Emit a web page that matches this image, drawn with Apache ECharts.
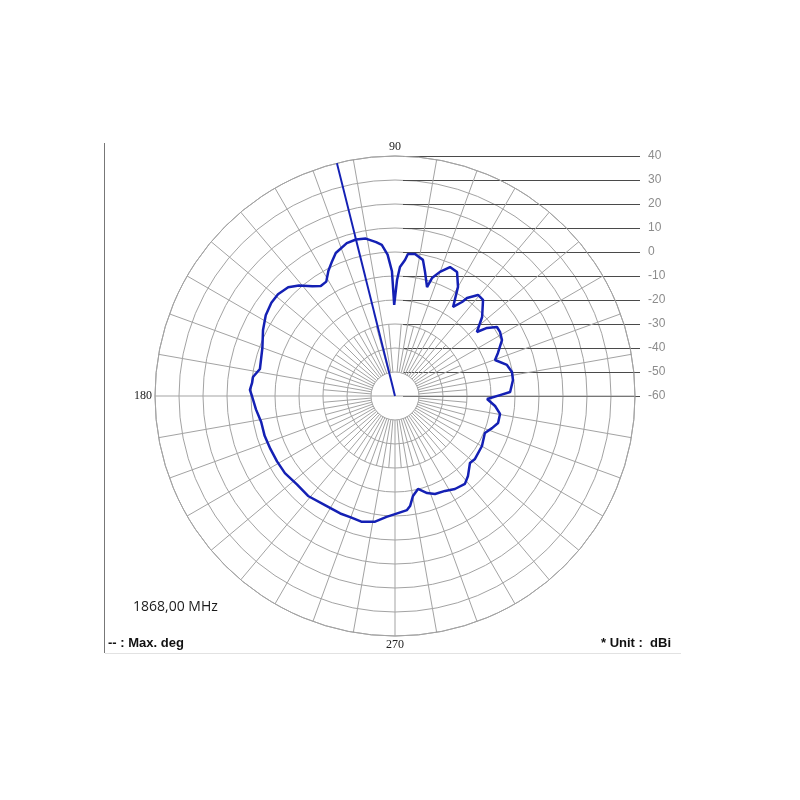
<!DOCTYPE html>
<html><head><meta charset="utf-8">
<script src="https://cdn.jsdelivr.net/npm/echarts@6/dist/echarts.min.js"></script>
<style>html,body{margin:0;padding:0;background:#fff}#c{width:800px;height:800px}</style>
</head><body><div id="c"></div>
<script>
// Measured radiation pattern (angle in degrees, gain in dBi)
const angles = [0.5, 2, 7.7, 11.6, 15.5, 19.8, 22.7, 27.6, 31.4, 34.1, 36.5, 38, 42.2, 47.5, 50.6, 53.7, 54.5, 56.9, 60, 63.4, 66.9, 70.1, 72.6, 73.6, 76.4, 78.4, 82, 84.8, 85.8, 87.8, 89, 90.5, 91.4, 93, 95, 97, 100.5, 104, 107.5, 112.5, 115, 118, 121, 124, 127, 131, 134.5, 139, 143, 148, 153.4, 160, 168.7, 172.4, 174.8, 177.6, 180, 185.5, 191, 197, 203, 209, 215, 222, 229, 238, 245, 250, 255, 261, 266, 270, 276, 277.8, 280.2, 283.9, 288.3, 292.2, 297.8, 302.8, 308.5, 312.4, 318.2, 321.8, 330.1, 337.6, 341.7, 345.3, 350.3, 354.3, 358.1];
const gains = [-16.25, -12.0, -10.4, -10.25, -11.6, -15.7, -13.5, -9.7, -8.75, -8.7, -12.3, -16.7, -11.0, -5.7, -5.5, -9.3, -11.9, -15.7, -7.5, -2.25, -1.6, -5.0, -8.5, -12.7, -6.8, -2.1, -0.25, -0.6, -3.2, -6.2, -11.7, -22.0, -8.0, -1.0, 3.2, 4.6, 6.7, 7.2, 6.8, 4.5, 2.0, -0.9, -4.4, -4.7, -2.8, 1.0, 3.5, 4.6, 4.5, 3.5, 1.5, -1.2, -2.6, -0.3, -0.2, 0.5, -0.4, -1.8, -3.2, -3.2, -3.6, -3.8, -4.0, -5.0, -4.8, -6.0, -6.0, -6.2, -5.8, -7.0, -9.5, -10.8, -12.2, -13.7, -17.7, -20.1, -17.4, -15.9, -15.3, -13.9, -13.2, -14.9, -18.1, -17.6, -18.2, -19.5, -17.4, -15.6, -15.6, -18.1, -21.6];
const maxDeg = 104;
const dbTicks = [40, 30, 20, 10, 0, -10, -20, -30, -40, -50, -60];
const angleLabels = ['90', '180', '270'];
const freqText = '1868,00 MHz';
const legendText = '-- : Max. deg';
const unitText = '* Unit :  dBi';

const rMin = Math.min(...dbTicks), rMax = Math.max(...dbTicks), rStep = dbTicks[0] - dbTicks[1];
const gridColor = '#a3a3a3';
const traceColor = '#1420b4';

// grid spokes: every 10 deg full length (none at 90 deg), extra 5 deg spokes near the centre
const spokes = [];
for (let a = 0; a < 360; a += 10) {
  if (a === 90) continue;
  spokes.push([(a % 180 === 0) ? rMin : rMin + rStep, a, rMax]);
}
for (let a = 5; a < 360; a += 10) spokes.push([rMin + rStep, a, rMin + 3 * rStep]);

const trace = angles.map((a, i) => [gains[i], a]);
trace.push([gains[0], angles[0]]);

const chart = echarts.init(document.getElementById('c'), null, {renderer: 'canvas'});
chart.setOption({
  animation: false,
  backgroundColor: '#fff',
  polar: {center: [395, 396], radius: [0, 240]},
  angleAxis: {
    type: 'value', min: 0, max: 360, interval: 10, startAngle: 0, clockwise: false,
    axisLine: {show: true, lineStyle: {color: gridColor, width: 1}},
    axisTick: {show: false},
    splitLine: {show: false},
    axisLabel: {
      show: true, margin: 3, color: '#222', fontSize: 12, fontFamily: 'Liberation Serif',
      formatter: v => angleLabels.includes(String(v)) ? String(v) : ''
    }
  },
  radiusAxis: {
    type: 'value', min: rMin, max: rMax, interval: rStep,
    axisLine: {show: false}, axisTick: {show: false}, axisLabel: {show: false},
    splitLine: {show: true, lineStyle: {color: gridColor, width: 1}}
  },
  grid: {left: 403, right: 160, top: 156, bottom: 404, show: false},
  xAxis: {type: 'value', min: 0, max: 1, show: false},
  yAxis: {
    type: 'value', position: 'right', min: rMin, max: rMax, interval: rStep,
    axisLine: {show: false}, axisTick: {show: false},
    splitLine: {show: true, lineStyle: {color: '#4a4a4a', width: 1}},
    axisLabel: {color: '#8c8c8c', fontSize: 12, fontFamily: 'Liberation Sans', margin: 8}
  },
  series: [
    {
      type: 'custom', coordinateSystem: 'polar', silent: true, z: 1,
      data: spokes,
      renderItem: (params, api) => {
        const p0 = api.coord([api.value(0), api.value(1)]);
        const p1 = api.coord([api.value(2), api.value(1)]);
        return {type: 'line', shape: {x1: p0[0], y1: p0[1], x2: p1[0], y2: p1[1]},
                style: {stroke: gridColor, lineWidth: 1}};
      }
    },
    {
      type: 'line', coordinateSystem: 'polar', z: 5, silent: true,
      data: [[rMin, maxDeg], [rMax, maxDeg]],
      showSymbol: false, lineStyle: {color: traceColor, width: 2}
    },
    {
      type: 'line', coordinateSystem: 'polar', z: 6, silent: true,
      data: trace, showSymbol: false, smooth: false,
      lineStyle: {color: traceColor, width: 2.5}
    },
    {type: 'line', xAxisIndex: 0, yAxisIndex: 0, data: [], silent: true}
  ],
  graphic: [
    {type: 'line', shape: {x1: 104.5, y1: 143, x2: 104.5, y2: 653}, style: {stroke: '#777', lineWidth: 1}},
    {type: 'line', shape: {x1: 105, y1: 653.5, x2: 681, y2: 653.5}, style: {stroke: '#e2e2e2', lineWidth: 1}},
    {type: 'text', x: 133, y: 607, style: {text: freqText, font: '14px "Open Sans"', fill: '#1a1a1a', verticalAlign: 'middle'}},
    {type: 'text', x: 108, y: 643, style: {text: legendText, font: 'bold 13px "Liberation Sans"', fill: '#111', verticalAlign: 'middle'}},
    {type: 'text', x: 601, y: 643, style: {text: unitText, font: 'bold 13px "Liberation Sans"', fill: '#111', align: 'left', verticalAlign: 'middle'}}
  ]
});
</script>
</body></html>
